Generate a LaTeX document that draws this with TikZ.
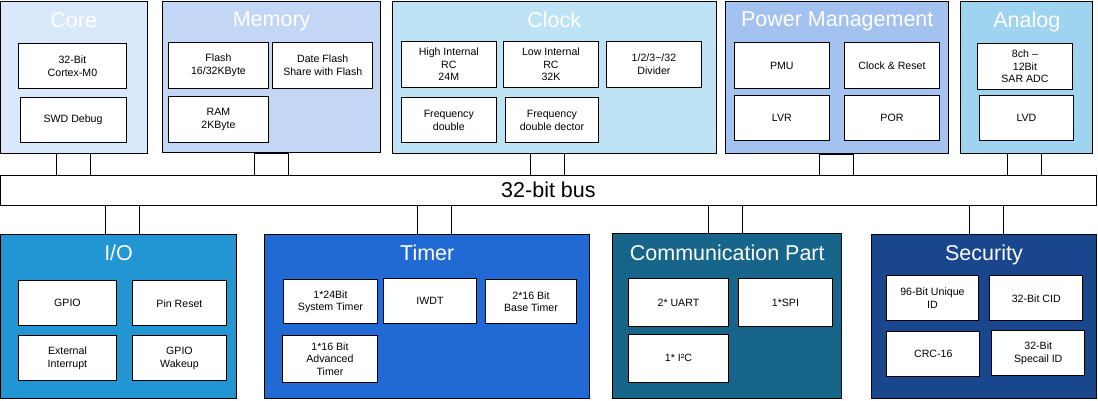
\documentclass[tikz,border=0pt]{standalone}
\usepackage{fontspec}
\setmainfont{Liberation Sans}
\usepackage{tikz}
\usetikzlibrary{positioning}
\definecolor{corefill}{HTML}{DAE8FC}
\definecolor{memfill}{HTML}{C3D6F5}
\definecolor{clkfill}{HTML}{BDE3F5}
\definecolor{pwrfill}{HTML}{A3C2F0}
\definecolor{anafill}{HTML}{9FD4F0}
\definecolor{iofill}{HTML}{2196D3}
\definecolor{tmrfill}{HTML}{226AD3}
\definecolor{comfill}{HTML}{17658A}
\definecolor{secfill}{HTML}{1A468D}

\begin{document}
\begin{tikzpicture}[x=1pt, y=-1pt,
		group/.style args={#1x#2}{draw, line width=0.9pt, anchor=north west, minimum width=#1, minimum height=#2, inner sep=0pt},
		unit/.style args={#1x#2}{draw, fill=white, line width=0.9pt, anchor=north west, minimum width=#1, minimum height=#2, inner sep=0pt, align=center, font=\fontsize{10.6}{12.7}\selectfont},
		title/.style={text=white, font=\fontsize{21.5}{24}\selectfont, inner sep=0pt},
		stub/.style={draw, fill=white, line width=0.9pt}
	]
	\useasboundingbox (0,0) rectangle (1098,400);
	% top row
	\node[group=146.5x152, fill=corefill] (core) at (0,1) {};
	\node[group=217.7x151.3, fill=memfill] (mem) at (162.3,1) {};
	\node[group=324x151.7, fill=clkfill] (clk) at (391.7,1) {};
	\node[group=223x152.3, fill=pwrfill] (pwr) at (725.3,1) {};
	\node[group=132x151.7, fill=anafill] (ana) at (960.3,1) {};
	% bottom row
	\node[group=236.3x164.3, fill=iofill] (io) at (0,234) {};
	\node[group=325x163.7, fill=tmrfill] (tmr) at (264.3,234) {};
	\node[group=229x164.7, fill=comfill] (com) at (612.3,233.3) {};
	\node[group=225.6x164, fill=secfill] (sec) at (870.7,234) {};
	% bus
	\node[group=1096x29.5, fill=white] (bus) at (0,175) {};
	\node[font=\fontsize{21.5}{24}\selectfont, inner sep=0pt] (buslabel) at (bus.center) {32-bit bus};
	% titles
	\foreach \blk/\txt in {core/Core, mem/Memory, clk/Clock, pwr/Power Management, ana/Analog,
		io/I\slash O, tmr/Timer, com/Communication Part, sec/Security} {
			\node[title, below=11pt of \blk.north] (\blk-title) {\txt};
		}
	% stubs
	\foreach \blk/\xa/\xb in {core/56.7/90.3, mem/254.7/288.3, clk/530.3/564.3, pwr/819.7/853.3, ana/1007.7/1041.3} {
			\draw[stub] (\xa,0 |- \blk.south) rectangle (\xb,0 |- bus.north);
		}
	\foreach \blk/\xa/\xb in {io/105.7/139.3, tmr/417.3/451.3, com/708.3/742.3, sec/969.7/1003.3} {
			\draw[stub] (\xa,0 |- bus.south) rectangle (\xb,0 |- \blk.north);
		}
	% core
	\node[unit=107.4x45] (cpu) at (18.3,43.3) {32-Bit\\Cortex-M0};
	\node[unit=106.2x45] (swd) at (19.5,97.3) {SWD Debug};
	% memory
	\node[unit=99.4x46] (flash) at (168.3,42) {Flash\\16/32KByte};
	\node[unit=100x46] (dflash) at (272.3,42) {Date Flash\\Share with Flash};
	\node[unit=99.4x46] (ram) at (168.3,96.3) {RAM\\2KByte};
	% clock
	\node[unit=94.7x45.4] (hirc) at (401,41.3) {High Internal\\RC\\24M};
	\node[unit=94.4x45.4] (lirc) at (503.3,41.3) {Low Internal\\RC\\32K};
	\node[unit=94.4x45.4] (div) at (606.3,41.3) {1/2/3\textasciitilde/32\\Divider};
	\node[unit=94.7x45] (fdbl) at (401,97.3) {Frequency\\double};
	\node[unit=92.4x45] (fdet) at (505.3,97.3) {Frequency\\double dector};
	% power management
	\node[unit=94.7x45.4] (pmu) at (734,42.3) {PMU};
	\node[unit=94.4x45.4] (clkrst) at (844.3,42.3) {Clock \& Reset};
	\node[unit=94.7x45] (lvr) at (734,95.3) {LVR};
	\node[unit=94.4x45] (por) at (844.3,95.3) {POR};
	% analog
	\node[unit=94.4x45.7] (adc) at (977.3,43) {8ch –\\12Bit\\SAR ADC};
	\node[unit=93.4x44.4] (lvd) at (979.3,95.3) {LVD};
	% io
	\node[unit=97.4x45] (gpio) at (18.3,280.3) {GPIO};
	\node[unit=93.4x45] (pinrst) at (132.3,280.3) {Pin Reset};
	\node[unit=97.4x45] (extint) at (18.3,335.3) {External\\Interrupt};
	\node[unit=93.4x45] (wake) at (132.3,335.3) {GPIO\\Wakeup};
	% timer
	\node[unit=93.4x44] (systmr) at (283.3,279.3) {1*24Bit\\System Timer};
	\node[unit=94.4x46.4] (advtmr) at (282.3,335.3) {1*16 Bit\\Advanced\\Timer};
	\node[unit=92.4x45] (iwdt) at (383.3,278.3) {IWDT};
	\node[unit=90.4x44] (basetmr) at (485.3,279.3) {2*16 Bit\\Base Timer};
	% communication
	\node[unit=99.4x48] (uart) at (628.3,278.3) {2* UART};
	\node[unit=93.4x48] (spi) at (738.3,278.3) {1*SPI};
	\node[unit=99.4x48] (iic) at (628.3,333.7) {1* I²C};
	% security
	\node[unit=92.6x45] (uid) at (885.7,275.3) {96-Bit Unique\\ID};
	\node[unit=93x45] (cid) at (989.3,275.3) {32-Bit CID};
	\node[unit=93x45] (crc) at (886.3,331.3) {CRC-16};
	\node[unit=93x45] (sid) at (991.3,330.3) {32-Bit\\Specail ID};
\end{tikzpicture}
\end{document}
